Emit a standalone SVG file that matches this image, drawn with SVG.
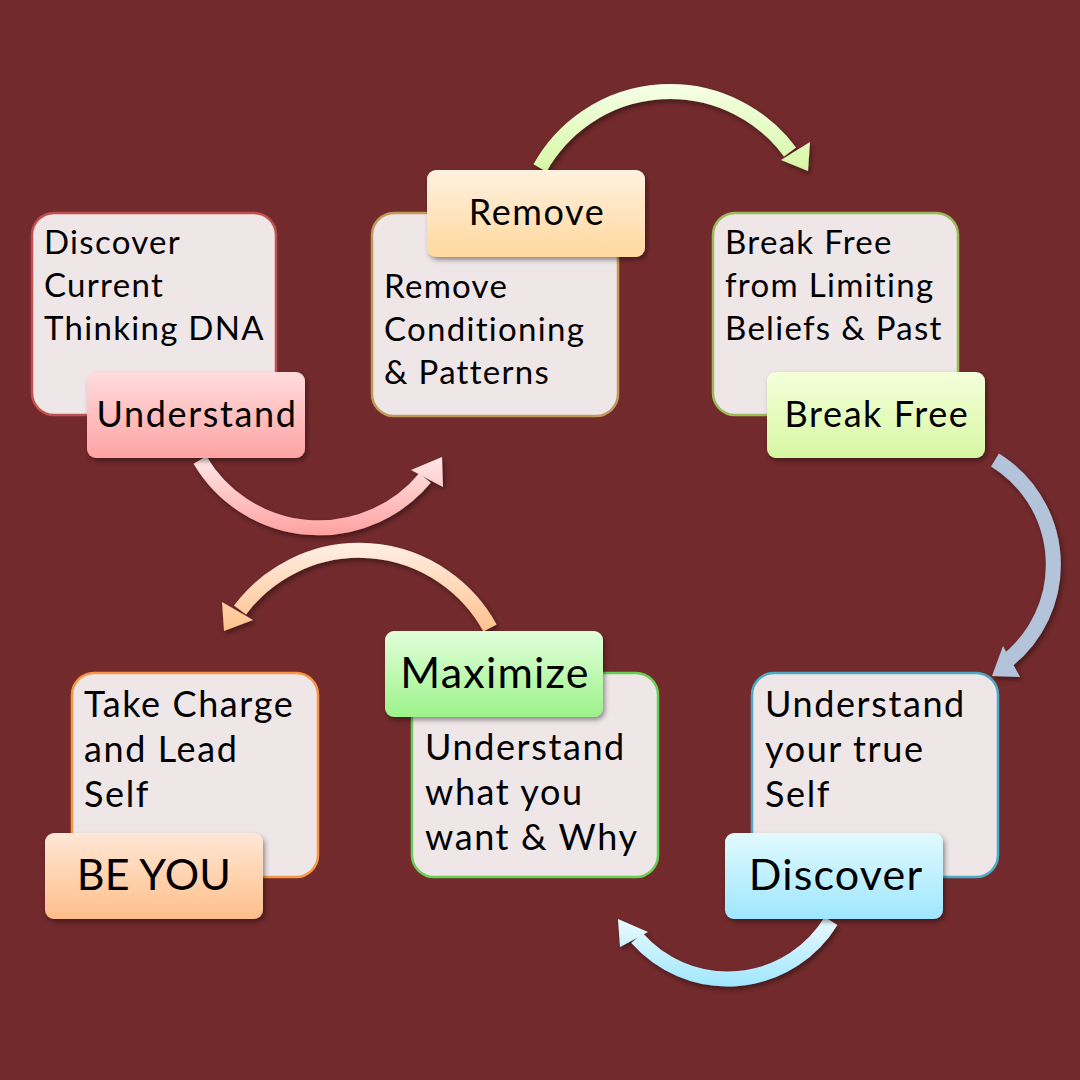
<svg xmlns="http://www.w3.org/2000/svg" width="1080" height="1080" viewBox="0 0 1080 1080">
<defs>
<style>
.box{fill:#EFE6E8;stroke-width:2.5}
.lbl{filter:url(#sh)}
.body{font-family:Lato,"Liberation Sans",sans-serif;fill:#000;font-variant-ligatures:none}
.t1{font-size:33px;letter-spacing:1.3px}
.t2{font-size:36px;letter-spacing:1.6px}
.l1{font-size:36px;letter-spacing:1.6px;text-anchor:middle}
.l2{font-size:43px;letter-spacing:1.2px;text-anchor:middle}
.l3{font-size:43px;letter-spacing:0.2px;text-anchor:middle}
.arr{fill:none;stroke-width:15}
</style>
<filter id="sh" x="-10%" y="-10%" width="130%" height="140%">
<feDropShadow dx="2" dy="3" stdDeviation="2.5" flood-color="#000" flood-opacity="0.4"/>
</filter>
<linearGradient id="gPink" x1="0" y1="0" x2="0" y2="1"><stop offset="0" stop-color="#FFDCDC"/><stop offset="1" stop-color="#FFA3A3"/></linearGradient>
<linearGradient id="gOrange" x1="0" y1="0" x2="0" y2="1"><stop offset="0" stop-color="#FFF1DF"/><stop offset="1" stop-color="#FFD89E"/></linearGradient>
<linearGradient id="gLime" x1="0" y1="0" x2="0" y2="1"><stop offset="0" stop-color="#F4FFDA"/><stop offset="1" stop-color="#D7F7A2"/></linearGradient>
<linearGradient id="gPeach" x1="0" y1="0" x2="0" y2="1"><stop offset="0" stop-color="#FFE8D6"/><stop offset="1" stop-color="#FFBE8A"/></linearGradient>
<linearGradient id="gGreen" x1="0" y1="0" x2="0" y2="1"><stop offset="0" stop-color="#E2FFDA"/><stop offset="1" stop-color="#9CF28A"/></linearGradient>
<linearGradient id="gCyan" x1="0" y1="0" x2="0" y2="1"><stop offset="0" stop-color="#E2FAFF"/><stop offset="1" stop-color="#9EE6FF"/></linearGradient>
<linearGradient id="aPink" gradientUnits="userSpaceOnUse" x1="0" y1="455" x2="0" y2="536"><stop offset="0" stop-color="#FFEAEA"/><stop offset="1" stop-color="#FFA0A0"/></linearGradient>
<linearGradient id="aLime" gradientUnits="userSpaceOnUse" x1="0" y1="85" x2="0" y2="172"><stop offset="0" stop-color="#F6FFE6"/><stop offset="1" stop-color="#D6F7A4"/></linearGradient>
<linearGradient id="aCyan" gradientUnits="userSpaceOnUse" x1="0" y1="915" x2="0" y2="988"><stop offset="0" stop-color="#EEFCFF"/><stop offset="1" stop-color="#9EE6FF"/></linearGradient>
<linearGradient id="aPeach" gradientUnits="userSpaceOnUse" x1="0" y1="545" x2="0" y2="632"><stop offset="0" stop-color="#FFEEE2"/><stop offset="1" stop-color="#FFC08C"/></linearGradient>
</defs>
<rect width="1080" height="1080" fill="#722A2C"/>
<g id="connectors" filter="url(#sh)">
<g id="c1"><path class="arr" stroke="url(#aPink)" d="M200 460 A138 138 0 0 0 425 478"/><polygon fill="url(#aPink)" points="442,457 411,470 443,487"/></g>
<g id="c2"><path class="arr" stroke="url(#aLime)" d="M540 168 A149 149 0 0 1 790 152"/><polygon fill="url(#aLime)" points="808,171 781,160 810,142"/></g>
<g id="c3"><path class="arr" stroke="#B3C3D9" d="M995 460 A123 123 0 0 1 1008 660"/><polygon fill="#B3C3D9" points="992,676 1003,646 1020,677"/></g>
<g id="c4"><path class="arr" stroke="url(#aCyan)" d="M831 921 A121 121 0 0 1 637 938"/><polygon fill="url(#aCyan)" points="618,919 648,932 620,947"/></g>
<g id="c5"><path class="arr" stroke="url(#aPeach)" d="M490 628 A149 149 0 0 0 240 610"/><polygon fill="url(#aPeach)" points="224,631 222,602 253,620"/></g>
</g>
<g id="n1">
<rect class="box" x="32" y="213" width="244" height="202" rx="22" stroke="#C0504D"/>
<text class="body t1"><tspan x="44" y="254">Discover</tspan><tspan x="44" y="297">Current</tspan><tspan x="44" y="340">Thinking DNA</tspan></text>
<rect class="lbl" x="87" y="372" width="218" height="86" rx="9" fill="url(#gPink)"/>
<text class="body l1" x="197" y="427">Understand</text>
</g>
<g id="n2">
<rect class="box" x="372" y="213" width="246" height="203" rx="22" stroke="#BF9A5A"/>
<text class="body t1"><tspan x="384" y="298">Remove</tspan><tspan x="384" y="341">Conditioning</tspan><tspan x="384" y="384">&amp; Patterns</tspan></text>
<rect class="lbl" x="427" y="170" width="218" height="87" rx="9" fill="url(#gOrange)"/>
<text class="body l1" x="537" y="225">Remove</text>
</g>
<g id="n3">
<rect class="box" x="713" y="213" width="245" height="202" rx="22" stroke="#9BBB59"/>
<text class="body t1"><tspan x="725" y="254">Break Free</tspan><tspan x="725" y="297">from Limiting</tspan><tspan x="725" y="340">Beliefs &amp; Past</tspan></text>
<rect class="lbl" x="767" y="372" width="218" height="86" rx="9" fill="url(#gLime)"/>
<text class="body l1" x="877" y="427">Break Free</text>
</g>
<g id="n4">
<rect class="box" x="72" y="673" width="246" height="204" rx="22" stroke="#F79646"/>
<text class="body t2"><tspan x="84" y="717">Take Charge</tspan><tspan x="84" y="762">and Lead</tspan><tspan x="84" y="807">Self</tspan></text>
<rect class="lbl" x="45" y="833" width="218" height="86" rx="9" fill="url(#gPeach)"/>
<text class="body l3" x="154" y="890">BE YOU</text>
</g>
<g id="n5">
<rect class="box" x="412" y="673" width="246" height="204" rx="22" stroke="#66D055"/>
<text class="body t2"><tspan x="425" y="760">Understand</tspan><tspan x="425" y="805">what you</tspan><tspan x="425" y="850">want &amp; Why</tspan></text>
<rect class="lbl" x="385" y="631" width="218" height="86" rx="9" fill="url(#gGreen)"/>
<text class="body l2" x="495" y="688">Maximize</text>
</g>
<g id="n6">
<rect class="box" x="752" y="673" width="246" height="204" rx="22" stroke="#4BACC6"/>
<text class="body t2"><tspan x="765" y="717">Understand</tspan><tspan x="765" y="762">your true</tspan><tspan x="765" y="807">Self</tspan></text>
<rect class="lbl" x="725" y="833" width="218" height="86" rx="9" fill="url(#gCyan)"/>
<text class="body l2" x="836" y="890">Discover</text>
</g>
</svg>
